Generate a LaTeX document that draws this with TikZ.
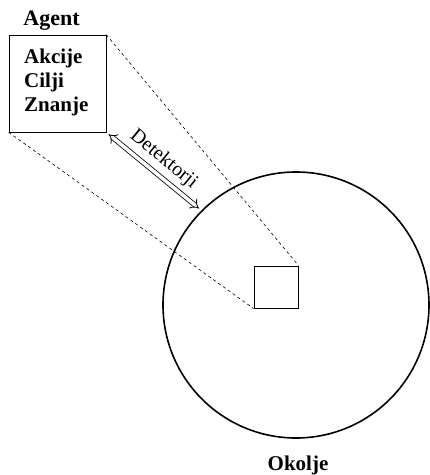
\documentclass[tikz,border=0pt]{standalone}
\usepackage{fontspec}
\setmainfont{Liberation Serif}
\usepackage{tikz}
\usetikzlibrary{arrows.meta}
\tikzset{box/.style={draw, inner sep=0pt},
 name text/.style={font=\fontsize{21}{24}\selectfont\bfseries, inner sep=0pt},
 dashline/.style={dash pattern=on 3pt off 3pt, line width=0.6pt},
 sensor/.style={double, double distance=3.5pt, line width=0.8pt, {Implies}-{Implies},
   shorten <=3pt, shorten >=3pt},
 }

\begin{document}
\begin{tikzpicture}[x=10pt, y=-10pt]
        \useasboundingbox (0,0) rectangle (43,47.5);
        \node [box, line width=0.6pt, minimum width=97pt, minimum height=97pt] (agent) at (5.75, 8.35) {};
        \node [name text, font=\fontsize{22}{24}\selectfont\bfseries] (agentname) at (5.15, 2.1) {Agent};
        \node [name text, anchor=west, align=left] (parts) at (2.4, 8.2) {Akcije\\Cilji\\Znanje};
        \node [draw, circle, line width=1.6pt, minimum size=266pt, inner sep=0pt] (env) at (29.6, 30.5) {};
        \node [box, line width=1pt, minimum width=44pt, minimum height=42pt] (view) at (27.6, 28.7) {};
        \node [name text] (envname) at (29.8, 46.5) {Okolje};
        \draw [dashline] (agent.north east) -- (view.north east);
        \draw [dashline] (agent.south west) -- (view.south west);
        \draw [sensor] (agent.south east) -- (env.north west)
            node [midway, sloped, above, font=\fontsize{20}{22}\selectfont, inner sep=6pt] (sensorname) {Detektorji};
    \end{tikzpicture}
\end{document}
